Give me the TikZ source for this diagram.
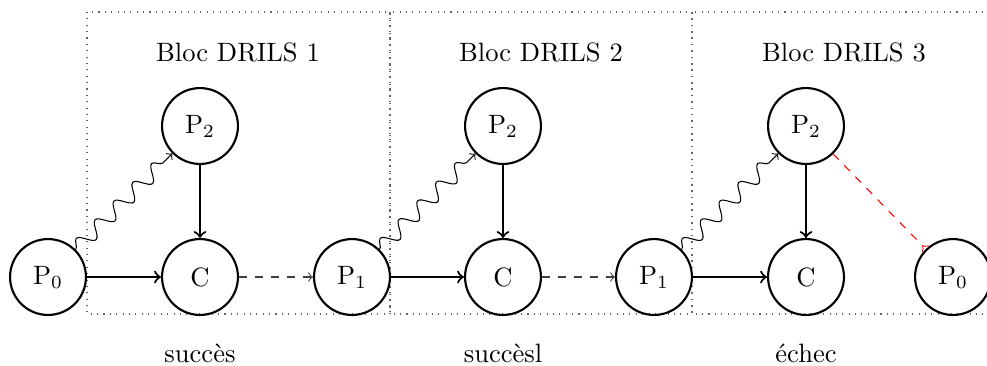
\documentclass[tikz,border=0pt]{standalone}
\usetikzlibrary{decorations.pathmorphing,arrows}
\begin{document}
\begin{tikzpicture}[x=0.3768pt,y=-0.3768pt,
  state/.style={circle,draw,thick,minimum size=28.6pt,inner sep=0pt},
  blockbox/.style={draw=black!60,dotted},
  flow/.style={->,thick},
  wave/.style={->,decorate,decoration={snake,amplitude=2.8pt,post length=2pt}},
  nextstep/.style={->,dashed,black!75},
  failstep/.style={-to reversed,dashed,red},
  lbl/.style={anchor=base,inner sep=0pt}]
\useasboundingbox (0,0) rectangle (987,365);
% blocks
\draw[blockbox] (87,12) rectangle (390,314);
\draw[blockbox] (390,12) rectangle (692,314);
\draw[blockbox] (692,12) rectangle (1010,314);
\node[lbl] (t1) at (238,61) {Bloc DRILS 1};
\node[lbl] (t2) at (541,61) {Bloc DRILS 2};
\node[lbl] (t3) at (844,61) {Bloc DRILS 3};
% nodes
\node[state] (p0a) at (48,277) {P$_0$};
\node[state] (c1) at (200,277) {C};
\node[state] (p21) at (200,126) {P$_2$};
\node[state] (p1a) at (352,277) {P$_1$};
\node[state] (c2) at (503,277) {C};
\node[state] (p22) at (503,126) {P$_2$};
\node[state] (p1b) at (654,277) {P$_1$};
\node[state] (c3) at (806,277) {C};
\node[state] (p23) at (806,126) {P$_2$};
\node[state] (p0b) at (953,277) {P$_0$};
% edges
\draw[flow] (p0a) -- (c1);
\draw[flow] (p21) -- (c1);
\draw[wave] (p0a) -- (p21);
\draw[nextstep] (c1) -- (p1a);
\draw[flow] (p1a) -- (c2);
\draw[flow] (p22) -- (c2);
\draw[wave] (p1a) -- (p22);
\draw[nextstep] (c2) -- (p1b);
\draw[flow] (p1b) -- (c3);
\draw[flow] (p23) -- (c3);
\draw[wave] (p1b) -- (p23);
\draw[failstep] (p23) -- (p0b);
% outcomes
\node[lbl] (o1) at (200,362) {succ\`es};
\node[lbl] (o2) at (503,362) {succ\`esl};
\node[lbl] (o3) at (806,362) {\'echec};
\end{tikzpicture}
\end{document}
